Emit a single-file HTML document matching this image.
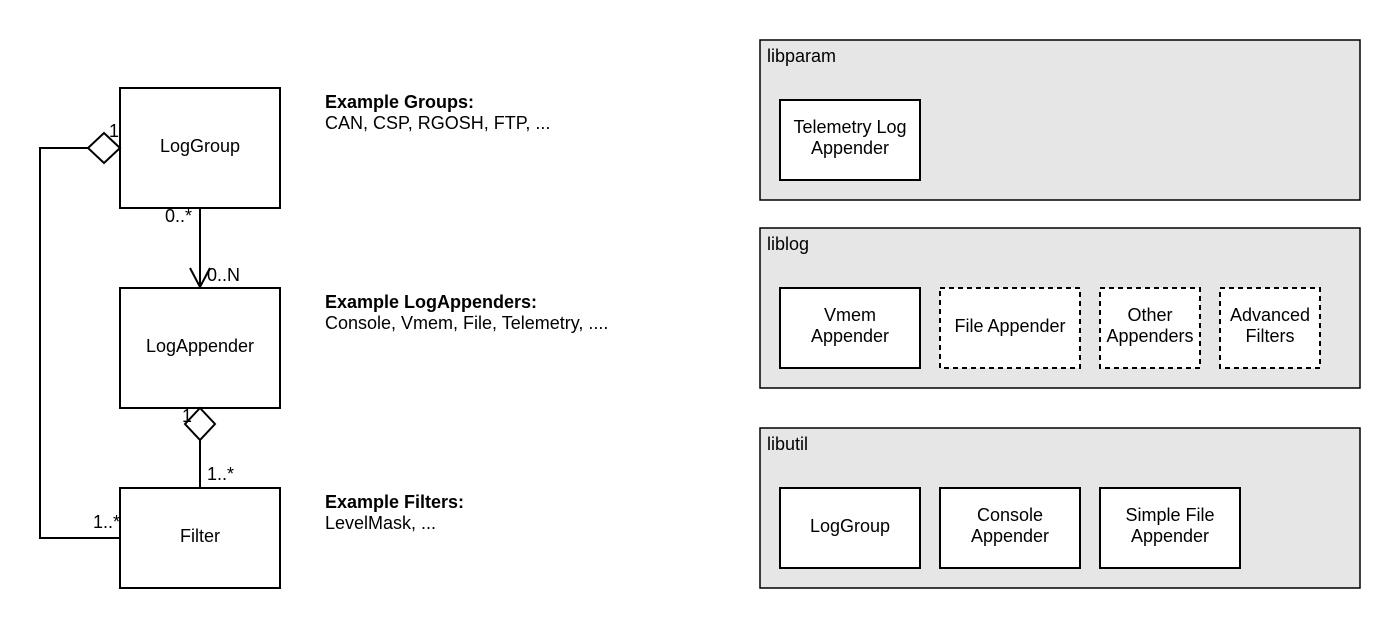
<!DOCTYPE html>
<html><head><style>body{margin:0;background:#fff}</style></head><body>
<svg width="1400" height="628" xmlns="http://www.w3.org/2000/svg" font-family="Liberation Sans, sans-serif" font-size="18">
<g fill="#fff" stroke="#000" stroke-width="2">
<rect x="120" y="88" width="160" height="120"/>
<rect x="120" y="288" width="160" height="120"/>
<rect x="120" y="488" width="160" height="100"/>
</g>
<g fill="none" stroke="#000" stroke-width="2">
<polyline points="88,148 40,148 40,538 120,538"/>
<polygon points="120,148 104,133 88,148 104,163" fill="#fff"/>
<line x1="200" y1="208" x2="200" y2="286"/>
<polyline points="190,268 200,287 210,268"/>
<polygon points="200,408 215,424 200,440 185,424" fill="#fff"/>
<line x1="200" y1="440" x2="200" y2="488"/>
</g>
<g text-anchor="middle">
<text x="200" y="152">LogGroup</text>
<text x="200" y="352">LogAppender</text>
<text x="200" y="542">Filter</text>
</g>
<text x="109" y="137">1</text>
<text x="165" y="222">0..*</text>
<text x="207" y="281">0..N</text>
<text x="182" y="422">1</text>
<text x="207" y="480">1..*</text>
<text x="93" y="528">1..*</text>
<text x="325" y="108" font-weight="bold">Example Groups:</text>
<text x="325" y="129">CAN, CSP, RGOSH, FTP, ...</text>
<text x="325" y="308" font-weight="bold">Example LogAppenders:</text>
<text x="325" y="329">Console, Vmem, File, Telemetry, ....</text>
<text x="325" y="508" font-weight="bold">Example Filters:</text>
<text x="325" y="529">LevelMask, ...</text>
<g fill="#e6e6e6" stroke="#000" stroke-width="1.5">
<rect x="760" y="40" width="600" height="160"/>
<rect x="760" y="228" width="600" height="160"/>
<rect x="760" y="428" width="600" height="160"/>
</g>
<text x="767" y="62">libparam</text>
<text x="767" y="250">liblog</text>
<text x="767" y="450">libutil</text>
<g fill="#fff" stroke="#000" stroke-width="2">
<rect x="780" y="100" width="140" height="80"/>
<rect x="780" y="288" width="140" height="80"/>
<rect x="780" y="488" width="140" height="80"/>
<rect x="940" y="488" width="140" height="80"/>
<rect x="1100" y="488" width="140" height="80"/>
</g>
<g fill="#fff" stroke="#000" stroke-width="2" stroke-dasharray="5,4">
<rect x="940" y="288" width="140" height="80"/>
<rect x="1100" y="288" width="100" height="80"/>
<rect x="1220" y="288" width="100" height="80"/>
</g>
<g text-anchor="middle">
<text x="850" y="133">Telemetry Log</text><text x="850" y="154">Appender</text>
<text x="850" y="321">Vmem</text><text x="850" y="342">Appender</text>
<text x="1010" y="332">File Appender</text>
<text x="1150" y="321">Other</text><text x="1150" y="342">Appenders</text>
<text x="1270" y="321">Advanced</text><text x="1270" y="342">Filters</text>
<text x="850" y="532">LogGroup</text>
<text x="1010" y="521">Console</text><text x="1010" y="542">Appender</text>
<text x="1170" y="521">Simple File</text><text x="1170" y="542">Appender</text>
</g>
</svg>
</body></html>
